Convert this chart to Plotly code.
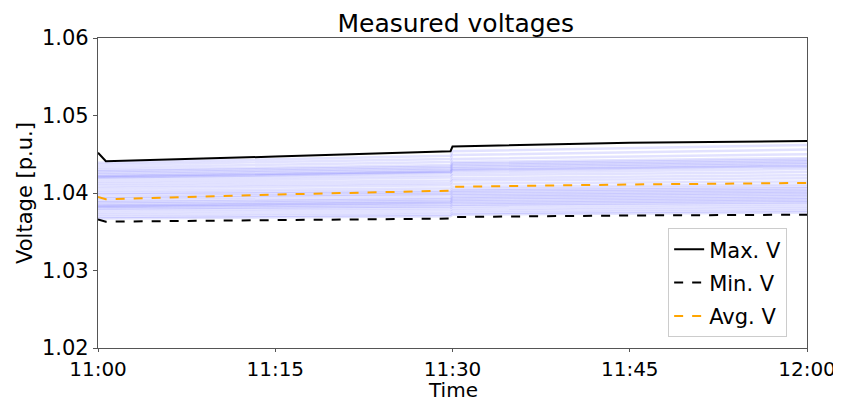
import plotly.graph_objects as go

# Time stamps (same day)
times = ["2024-01-01 11:00:00", "2024-01-01 11:00:40", "2024-01-01 11:15:00",
         "2024-01-01 11:29:50", "2024-01-01 11:30:00", "2024-01-01 11:45:00",
         "2024-01-01 12:00:00"]

max_v = [1.0452, 1.0441, 1.0447, 1.0454, 1.0460, 1.0465, 1.0467]
min_v = [1.0366, 1.0363, 1.0365, 1.0367, 1.0369, 1.0371, 1.0372]
avg_v = [1.0395, 1.0392, 1.0398, 1.0403, 1.0408, 1.0411, 1.0413]

# Individual bus voltages at 11:00, 11:30 (before), 11:30 (after), 12:00
bus_times = ["2024-01-01 11:00:00", "2024-01-01 11:29:50",
             "2024-01-01 11:30:00", "2024-01-01 12:00:00"]
bus_start = [1.0439, 1.0436, 1.0433, 1.0430, 1.0428, 1.0426, 1.0424, 1.0422,
             1.0421, 1.0420, 1.0418, 1.0415, 1.0412, 1.0409, 1.0406, 1.0403,
             1.0400, 1.0398, 1.0395, 1.0393, 1.0390, 1.0388, 1.0386, 1.0384,
             1.0383, 1.0382, 1.0380, 1.0378, 1.0375, 1.0372, 1.0369, 1.0367]
bus_pre = [1.0448, 1.0444, 1.0440, 1.0436, 1.0434, 1.0432, 1.0430, 1.0428,
           1.0427, 1.0426, 1.0423, 1.0420, 1.0416, 1.0413, 1.0410, 1.0406,
           1.0403, 1.0401, 1.0399, 1.0397, 1.0394, 1.0392, 1.0390, 1.0388,
           1.0387, 1.0385, 1.0383, 1.0381, 1.0378, 1.0375, 1.0372, 1.0370]
bus_post = [1.0454, 1.0449, 1.0444, 1.0440, 1.0438, 1.0436, 1.0434, 1.0432,
            1.0430, 1.0429, 1.0426, 1.0423, 1.0419, 1.0416, 1.0412, 1.0408,
            1.0405, 1.0403, 1.0401, 1.0399, 1.0397, 1.0395, 1.0393, 1.0391,
            1.0389, 1.0387, 1.0385, 1.0383, 1.0380, 1.0377, 1.0374, 1.0372]
bus_end = [1.0462, 1.0456, 1.0450, 1.0445, 1.0443, 1.0441, 1.0439, 1.0437,
           1.0435, 1.0434, 1.0431, 1.0427, 1.0423, 1.0419, 1.0415, 1.0411,
           1.0408, 1.0406, 1.0404, 1.0402, 1.0400, 1.0398, 1.0396, 1.0394,
           1.0392, 1.0390, 1.0388, 1.0386, 1.0383, 1.0380, 1.0377, 1.0375]

y_ticks = [1.02, 1.03, 1.04, 1.05, 1.06]
x_ticks = ["2024-01-01 11:00:00", "2024-01-01 11:15:00", "2024-01-01 11:30:00",
           "2024-01-01 11:45:00", "2024-01-01 12:00:00"]
x_labels = ["11:00", "11:15", "11:30", "11:45", "12:00"]

fig = go.Figure()
for a, b, c, d in zip(bus_start, bus_pre, bus_post, bus_end):
    fig.add_trace(go.Scatter(x=bus_times, y=[a, b, c, d], mode="lines",
                             line=dict(color="rgba(60,60,255,0.15)", width=2.5),
                             showlegend=False, hoverinfo="skip"))

fig.add_trace(go.Scatter(x=times, y=max_v, mode="lines", name="Max. V",
                         legendgroup="a",
                         line=dict(color="black", width=2)))
fig.add_trace(go.Scatter(x=times, y=min_v, mode="lines", name="Min. V",
                         legendgroup="b",
                         line=dict(color="black", width=2, dash="dash")))
fig.add_trace(go.Scatter(x=times, y=avg_v, mode="lines", name="Avg. V",
                         legendgroup="c",
                         line=dict(color="#FFA500", width=2, dash="dash")))

font = "DejaVu Sans, sans-serif"
# the page body adds an 8 px margin, so the figure is 8 px smaller each way
fig.update_layout(
    width=833, height=393,
    margin=dict(l=90, r=34, t=30, b=53, autoexpand=False),
    paper_bgcolor="white", plot_bgcolor="white",
    font=dict(family=font, size=21, color="black"),
    title=dict(text="Measured voltages", x=0.5375, xanchor="center",
               y=0.96, yanchor="middle", font=dict(size=25)),
    showlegend=True,
    legend=dict(x=0.972, y=0.035, xanchor="right", yanchor="bottom",
                bgcolor="rgba(255,255,255,0.8)", bordercolor="#cccccc",
                borderwidth=1, font=dict(size=21), tracegroupgap=3),
    xaxis=dict(range=[x_ticks[0], x_ticks[-1]], tickvals=x_ticks,
               ticktext=x_labels, showgrid=False, zeroline=False,
               automargin=False, tickfont=dict(size=20),
               showline=True, linecolor="#555", linewidth=1.2, mirror=True,
               ticks="outside", ticklen=3, tickcolor="#555"),
    yaxis=dict(range=[1.02, 1.06], tickvals=y_ticks,
               ticktext=["%.2f" % v for v in y_ticks], showgrid=False,
               automargin=False,
               zeroline=False, showline=True, linecolor="#555", linewidth=1.2,
               mirror=True, ticks="outside", ticklen=4, tickcolor="#555"),
    annotations=[
        dict(text="Time", xref="paper", yref="paper", x=0.5, y=-0.137,
             xanchor="center", yanchor="middle", showarrow=False,
             font=dict(size=20)),
        dict(text="Voltage [p.u.]", xref="paper", yref="paper", x=-0.103,
             y=0.5, xanchor="center", yanchor="middle", textangle=-90,
             showarrow=False, font=dict(size=21)),
    ],
)

fig.write_html("out.html")
